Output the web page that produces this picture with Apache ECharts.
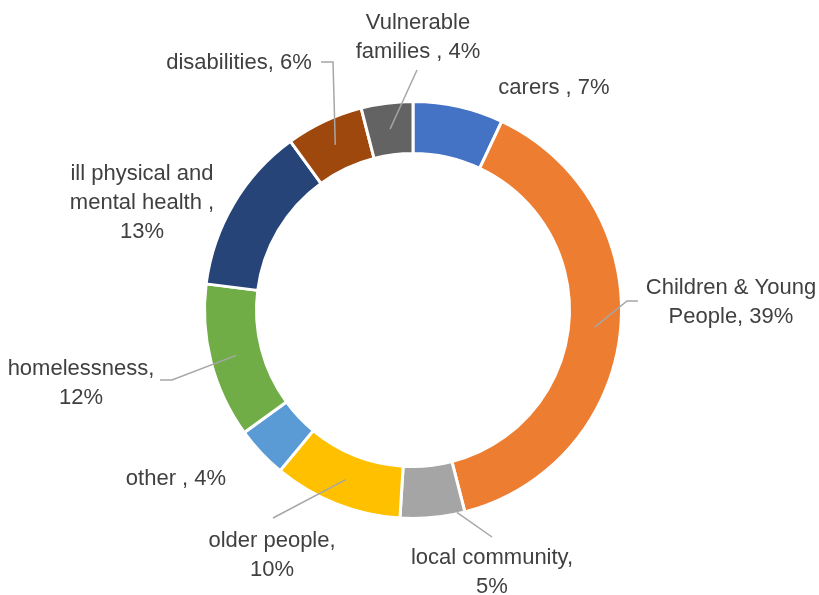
<!DOCTYPE html>
<html>
<head>
<meta charset="utf-8">
<script src="https://cdn.jsdelivr.net/npm/echarts@6/dist/echarts.min.js"></script>
<style>
html,body{margin:0;padding:0;background:#fff;}
#chart{width:819px;height:595px;}
</style>
</head>
<body>
<div id="chart"></div>
<script>
// ---- data ----
const categories = ['carers ', 'Children & Young People', 'local community', 'older people', 'other ', 'homelessness', 'ill physical and mental health ', 'disabilities', 'Vulnerable families '];
const values = [7, 39, 5, 10, 4, 12, 13, 6, 4];
const colors = ['#4472C4', '#ED7D31', '#A5A5A5', '#FFC000', '#5B9BD5', '#70AD47', '#264478', '#9E480E', '#636363'];
// wrapped names as shown in the labels
const wrappedNames = ['carers ', 'Children & Young\nPeople', 'local community', 'older people', 'other ', 'homelessness', 'ill physical and\nmental health ', 'disabilities', 'Vulnerable\nfamilies '];
const breakBeforePct = [false, false, true, true, false, true, true, false, false];

// ---- layout (label placement, not data) ----
const CX = 413, CY = 310, R_IN = 158, R_OUT = 207, BORDER = 3;
const R_MID = (R_IN + R_OUT) / 2;
// line: points from the slice anchor towards the label; anchor: where on the slice the leader starts
const labelPos = [
  {x: 554, y: 88},
  {x: 731, y: 302, line: [[627, 301], [638, 301]]},
  {x: 492, y: 572, line: [[492, 537]], anchor: {f: 0.12, r: R_OUT}},
  {x: 272, y: 555, line: [[273, 518]]},
  {x: 176, y: 479},
  {x: 81, y: 383, line: [[172, 380], [160, 380]]},
  {x: 142, y: 203},
  {x: 239, y: 63, line: [[333, 62], [321, 62]]},
  {x: 418, y: 37, line: [[417, 70]]}
];

const total = values.reduce((a, b) => a + b, 0);
function sliceAnchor(i, opt) {
  const f = opt && opt.f != null ? opt.f : 0.5;
  const r = opt && opt.r != null ? opt.r : R_MID;
  let before = 0;
  for (let k = 0; k < i; k++) before += values[k];
  const frac = (before + values[i] * f) / total;
  const theta = (90 - 360 * frac) * Math.PI / 180;
  return [CX + r * Math.cos(theta), CY - r * Math.sin(theta)];
}

const ringData = categories.map((name, i) => ({
  name: name,
  value: values[i],
  itemStyle: {color: colors[i]}
}));
const labelData = categories.map((name, i) => ({
  name: name,
  value: values[i],
  labelLine: {show: !!labelPos[i].line}
}));

const common = {
  type: 'pie',
  center: [CX, CY],
  radius: [R_IN - BORDER / 2, R_OUT + BORDER / 2],
  startAngle: 90,
  clockwise: true,
  avoidLabelOverlap: false,
  emphasis: {disabled: true},
  silent: true
};

const chart = echarts.init(document.getElementById('chart'), null, {renderer: 'canvas'});
chart.setOption({
  animation: false,
  backgroundColor: '#ffffff',
  series: [
    Object.assign({}, common, {
      z: 2,
      itemStyle: {borderColor: '#ffffff', borderWidth: BORDER},
      label: {show: false},
      labelLine: {show: false},
      data: ringData
    }),
    Object.assign({}, common, {
      z: 5,
      itemStyle: {color: 'rgba(0,0,0,0)', borderWidth: 0},
      label: {
        show: true,
        position: 'outside',
        color: '#404040',
        fontFamily: 'Liberation Sans',
        fontSize: 22,
        lineHeight: 29,
        formatter: function (p) {
          const i = p.dataIndex;
          return wrappedNames[i] + ',' + (breakBeforePct[i] ? '\n' : ' ') + values[i] + '%';
        }
      },
      labelLine: {show: true, lineStyle: {color: '#A6A6A6', width: 1.5}},
      labelLayout: function (params) {
        const i = params.dataIndex;
        const lp = labelPos[i];
        const out = {x: lp.x, y: lp.y, align: 'center', verticalAlign: 'middle'};
        if (lp.line) {
          out.labelLinePoints = [sliceAnchor(i, lp.anchor)].concat(lp.line);
        }
        return out;
      },
      data: labelData
    })
  ]
});
</script>
</body>
</html>
